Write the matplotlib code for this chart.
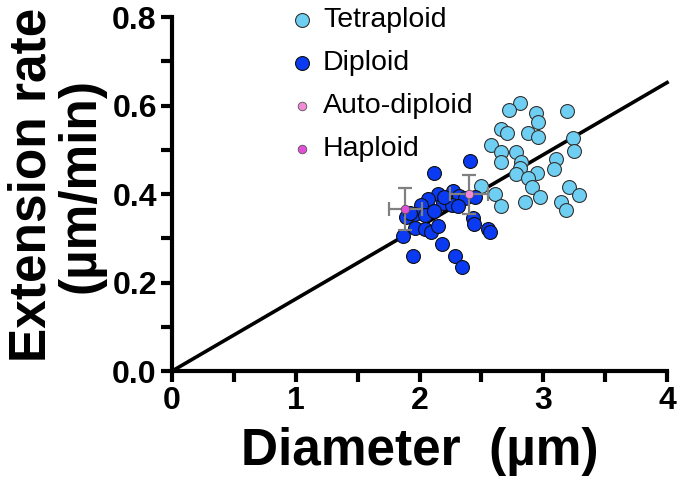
import matplotlib
matplotlib.use("Agg")
import matplotlib.pyplot as plt
from matplotlib.ticker import MultipleLocator

plt.rcParams["font.family"] = ["Liberation Sans", "DejaVu Sans"]

# Tetraploid cells: diameter (um), extension rate (um/min)
tetra_x = [2.81, 2.72, 2.94, 2.96, 3.19, 2.66, 2.71, 2.88, 2.96, 3.24, 2.58,
           2.66, 2.78, 2.66, 3.25, 3.10, 2.82, 2.81, 2.78, 3.09, 2.95, 2.88,
           2.91, 2.50, 2.61, 2.97, 3.21, 3.29, 2.66, 2.85, 3.14, 3.18]
tetra_y = [0.606, 0.591, 0.584, 0.563, 0.588, 0.548, 0.539, 0.539, 0.529,
           0.526, 0.511, 0.496, 0.496, 0.473, 0.498, 0.479, 0.472, 0.458,
           0.445, 0.456, 0.448, 0.437, 0.417, 0.418, 0.400, 0.394, 0.416,
           0.398, 0.373, 0.383, 0.383, 0.364]

# Diploid cells
dip_x = [2.41, 2.12, 2.27, 2.15, 2.07, 2.01, 2.19, 2.32, 2.37, 2.45, 2.26,
         2.31, 1.96, 2.04, 2.12, 1.89, 2.43, 2.44, 1.96, 2.04, 2.09, 2.15,
         2.55, 2.57, 1.87, 2.18, 1.95, 2.29, 2.34, 2.20, 1.92]
dip_y = [0.475, 0.448, 0.407, 0.400, 0.389, 0.375, 0.380, 0.395, 0.390,
         0.393, 0.375, 0.373, 0.355, 0.353, 0.361, 0.349, 0.346, 0.332,
         0.323, 0.320, 0.314, 0.328, 0.321, 0.314, 0.305, 0.287, 0.260,
         0.260, 0.235, 0.393, 0.357]

# Means with SD
auto_x, auto_y, auto_xerr, auto_yerr = [2.40], [0.400], [0.157], [0.044]
hap_x, hap_y, hap_xerr, hap_yerr = [1.885], [0.366], [0.135], [0.047]

# Fit through origin
fit_slope = 0.163
fit_x = [0, 4]

c_tetra = "#6fcff3"
c_dip = "#0a3af2"
c_auto = "#f28ad8"
c_hap = "#e24fd6"

fig = plt.figure(figsize=(6.8, 4.87), dpi=100)
ax = fig.add_axes([0.253, 0.238, 0.728, 0.727])

ax.plot(fit_x, [fit_slope * v for v in fit_x], color="black", lw=2.6,
        zorder=2, clip_on=False)

h_tetra = ax.scatter(tetra_x, tetra_y, s=100, c=c_tetra, edgecolors="#333333",
                     linewidths=0.8, zorder=3, label="Tetraploid")
h_dip = ax.scatter(dip_x, dip_y, s=100, c=c_dip, edgecolors="#111111",
                   linewidths=0.8, zorder=3, label="Diploid")

ax.errorbar(auto_x, auto_y, xerr=auto_xerr, yerr=auto_yerr, fmt="none",
            ecolor="#808080", elinewidth=1.6, capsize=5, capthick=1.6, zorder=4)
ax.errorbar(hap_x, hap_y, xerr=hap_xerr, yerr=hap_yerr, fmt="none",
            ecolor="#808080", elinewidth=1.6, capsize=5, capthick=1.6, zorder=4)
h_auto = ax.scatter(auto_x, auto_y, s=38, c=c_auto, edgecolors="#555555",
                    linewidths=0.6, zorder=5, label="Auto-diploid")
h_hap = ax.scatter(hap_x, hap_y, s=38, c=c_hap, edgecolors="#555555",
                   linewidths=0.6, zorder=5, label="Haploid")

ax.set_xlim(0, 4)
ax.set_ylim(0, 0.8)
ax.xaxis.set_major_locator(MultipleLocator(1))
ax.xaxis.set_minor_locator(MultipleLocator(0.5))
ax.yaxis.set_major_locator(MultipleLocator(0.2))
ax.yaxis.set_minor_locator(MultipleLocator(0.1))
ax.yaxis.set_major_formatter(plt.FuncFormatter(lambda v, p: f"{v:.1f}"))

for s in ["top", "right"]:
    ax.spines[s].set_visible(False)
for s in ["left", "bottom"]:
    ax.spines[s].set_linewidth(3)

ax.tick_params(which="both", width=3, length=8, direction="out")
ax.tick_params(which="major", labelsize=23, pad=3)
for lab in ax.get_xticklabels() + ax.get_yticklabels():
    lab.set_fontweight("bold")

ax.set_xlabel("Diameter  (µm)", fontsize=37, fontweight="bold", labelpad=8)
ax.set_ylabel("Extension rate\n(µm/min)", fontsize=37, fontweight="bold",
              linespacing=1.0)
ax.yaxis.set_label_coords(-0.135, 0.525)

ax.legend(handles=[h_tetra, h_dip, h_auto, h_hap], loc="upper left",
          bbox_to_anchor=(0.216, 1.06), frameon=False, fontsize=20.5,
          labelspacing=0.6, handlelength=0.8, handletextpad=0.35,
          borderaxespad=0)

fig.savefig("out.png", dpi=100)
